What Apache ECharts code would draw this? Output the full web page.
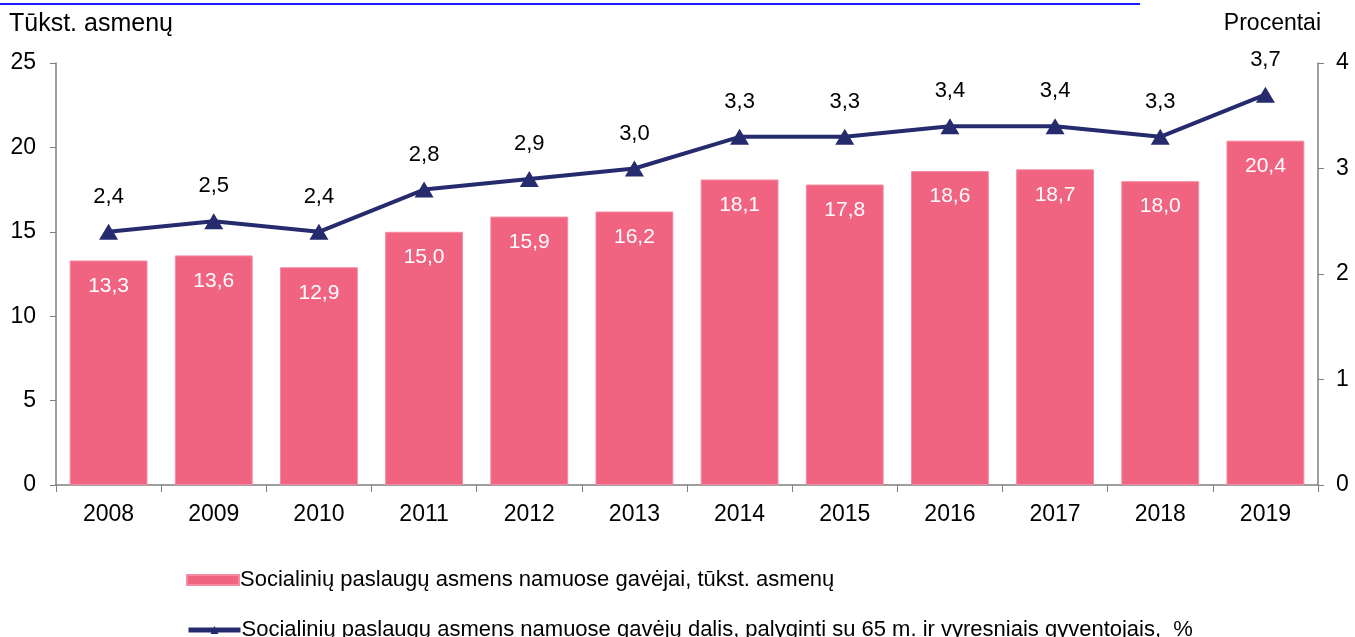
<!DOCTYPE html>
<html>
<head>
<meta charset="utf-8">
<script src="https://cdn.jsdelivr.net/npm/echarts@6/dist/echarts.min.js"></script>
<style>
  html, body { margin: 0; padding: 0; background: #fff; }
  #main { width: 1355px; height: 637px; }
</style>
</head>
<body>
<div id="main"></div>
<script>
var years = ['2008', '2009', '2010', '2011', '2012', '2013', '2014', '2015', '2016', '2017', '2018', '2019'];
var recipients = [13.3, 13.6, 12.9, 15.0, 15.9, 16.2, 18.1, 17.8, 18.6, 18.7, 18.0, 20.4];
var sharePct = [2.4, 2.5, 2.4, 2.8, 2.9, 3.0, 3.3, 3.3, 3.4, 3.4, 3.3, 3.7];

var barName = 'Socialinių paslaugų asmens namuose gavėjai, tūkst. asmenų';
var lineName = 'Socialinių paslaugų asmens namuose gavėjų dalis, palyginti su 65 m. ir vyresniais gyventojais,  %';

var font = 'Liberation Sans, Arial, sans-serif';
var comma = function (v) { return v.toFixed(1).replace('.', ','); };

var chartDom = document.getElementById('main');
var myChart = echarts.init(chartDom);
var option;

var legendBase = {
  left: 181,
  itemWidth: 52,
  itemHeight: 10,
  textStyle: { fontSize: 22, color: '#000', fontFamily: font, padding: [0, 0, 0, -4] }
};

option = {
  animation: false,
  textStyle: { fontFamily: font },
  grid: { left: 56, right: 37, top: 63, bottom: 152 },
  graphic: [
    { type: 'rect', shape: { x: 0, y: 3, width: 1140, height: 2 }, style: { fill: '#1a1aff' } },
    { type: 'text', left: 9, top: 12, style: { text: 'Tūkst. asmenų', font: '25px ' + font, fill: '#000' } },
    { type: 'text', right: 34, top: 12, style: { text: 'Procentai', font: '23px ' + font, fill: '#000' } }
  ],
  legend: [
    Object.assign({ top: 564, data: [{ name: barName, icon: 'rect' }] }, legendBase),
    Object.assign({ top: 614, data: [{ name: lineName, lineStyle: { width: 5 } }] }, legendBase)
  ],
  xAxis: {
    type: 'category',
    data: years,
    axisLine: { lineStyle: { color: '#808080', width: 1.5 } },
    axisTick: { show: true, length: 7, inside: false, lineStyle: { color: '#808080' } },
    axisLabel: { fontSize: 23, color: '#000', margin: 18 }
  },
  yAxis: [
    {
      type: 'value', min: 0, max: 25, interval: 5,
      axisLine: { show: true, lineStyle: { color: '#808080', width: 1.5 } },
      axisTick: { show: true, length: 6, lineStyle: { color: '#808080' } },
      splitLine: { show: false },
      axisLabel: { fontSize: 23, color: '#000', margin: 20 }
    },
    {
      type: 'value', min: 0, max: 4, interval: 1,
      axisLine: { show: true, lineStyle: { color: '#808080', width: 1.5 } },
      axisTick: { show: true, length: 6, lineStyle: { color: '#808080' } },
      splitLine: { show: false },
      axisLabel: { fontSize: 23, color: '#000', margin: 18 }
    }
  ],
  series: [
    {
      name: barName,
      type: 'bar',
      data: recipients,
      barWidth: '74%',
      itemStyle: { color: '#F06482', borderColor: '#F58AA2', borderWidth: 1 },
      label: {
        show: true, position: 'insideTop', distance: 15,
        color: '#fff', fontSize: 21, fontFamily: font,
        formatter: function (p) { return comma(p.value); }
      }
    },
    {
      name: lineName,
      type: 'line',
      yAxisIndex: 1,
      data: sharePct,
      symbol: 'triangle',
      symbolSize: [19, 16],
      lineStyle: { color: '#262B6E', width: 4 },
      itemStyle: { color: '#262B6E' },
      label: {
        show: true, position: 'top', distance: 16,
        color: '#000', fontSize: 22, fontFamily: font,
        formatter: function (p) { return comma(p.value); }
      }
    }
  ]
};

option && myChart.setOption(option);
</script>
</body>
</html>
